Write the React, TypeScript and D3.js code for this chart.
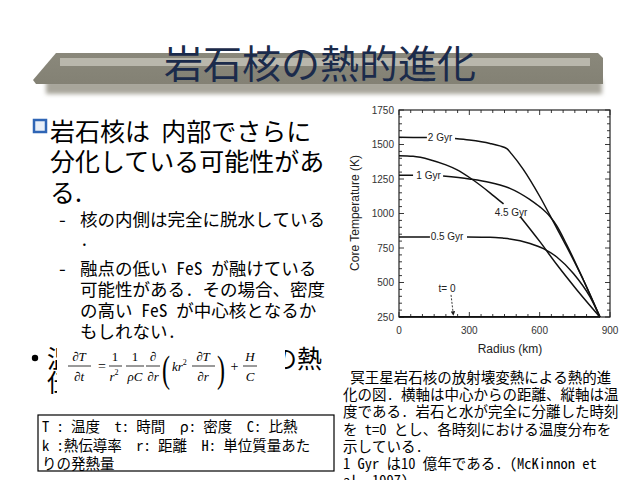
import React from "react";
import * as d3 from "d3";

// ---------- chart data (Radius km, Core Temperature K) ----------
type Pt = [number, number | null];
const curve2Gyr: Pt[] = [
  [0, 1552], [60, 1551], [119, 1550], [180, null], [239, 1543], [300, 1532], [388, 1508],
  [430, 1490], [460, 1470], [480, 1432], [530, 1320], [600, 1125], [660, 935],
  [715, 760], [786, 520], [857, 250],
];
const curve1Gyr: Pt[] = [
  [0, 1278], [60, 1277], [120, null], [188, 1271], [300, 1250], [388, 1225], [431, 1206],
  [473, 1182], [559, 1100], [601, 1048], [644, 978], [673, 910], [715, 775],
  [786, 520], [857, 250],
];
const curve45Gyr: Pt[] = [
  [0, 1418], [60, 1414], [132, 1390], [200, 1352], [246, 1318], [310, 1250],
  [388, 1150], [431, 1090], [446, 1070], [480, null], [517, 978], [601, 796],
  [673, 630], [758, 448], [857, 250],
];
const curve05Gyr: Pt[] = [
  [0, 830], [70, 830], [132, 830], [210, null], [290, 829], [388, 828], [446, 821],
  [473, 816], [559, 783], [616, 746], [673, 685], [744, 565], [815, 395], [857, 250],
];
const curveT0: Pt[] = [
  [0, 251], [857, 251],
];
const curves = [curve2Gyr, curve1Gyr, curve45Gyr, curve05Gyr];

const curveLabels = ["2 Gyr", "1 Gyr", "4.5 Gyr", "0.5 Gyr", "t= 0"];
const labelR = [175, 126, 478, 205, 205];
const labelT = [1548, 1276, 1010, 830, 455];
const arrowFrom: [number, number] = [222, 410];
const arrowTo: [number, number] = [232, 262];

const xMajor = [0, 300, 600, 900];
const xMinor = d3.range(0, 901, 50);
const yMajor = [250, 500, 750, 1000, 1250, 1500, 1750];
const yMinor = d3.range(250, 1751, 50);

// ---------- slide text ----------
const title = "岩石核の熱的進化";
const bullet1 = ["岩石核は  内部でさらに", "分化している可能性があ", "る."];
const sub1 = ["核の内側は完全に脱水している", "."];
const sub2 = ["融点の低い FeS が融けている", "可能性がある. その場合、密度", "の高い FeS が中心核となるか", "もしれない."];
const bullet2Start = ["温", "伝"];
const bullet2End = "の熱";
const legendBox = ["T : 温度  t: 時間  ρ: 密度  C: 比熱", "k :熱伝導率  r: 距離  H: 単位質量あた", "りの発熱量"];
const caption = [
  " 冥王星岩石核の放射壊変熱による熱的進",
  "化の図. 横軸は中心からの距離、縦軸は温",
  "度である. 岩石と水が完全に分離した時刻",
  "を t=0 とし、各時刻における温度分布を",
  "示している.",
  "1 Gyr は10 億年である. (McKinnon et",
  "al. 1997)",
];

const CJK = "'Noto Sans CJK JP', 'Noto Sans', sans-serif";
const MONO = "'Noto Sans Mono CJK JP', 'DejaVu Sans Mono', 'Noto Sans CJK JP', monospace";
const HELV = "'Liberation Sans', Arial, sans-serif";
const SERIF = "'Liberation Serif', 'DejaVu Serif', serif";
const PRE: React.CSSProperties = { whiteSpace: "pre" };

export default function App() {
  const x = d3.scaleLinear().domain([0, 900]).range([399, 610]);
  const y = d3.scaleLinear().domain([250, 1750]).range([317, 110]);
  const line = d3
    .line<Pt>()
    .defined((d) => d[1] != null)
    .x((d) => x(d[0]))
    .y((d) => y(d[1] as number))
    .curve(d3.curveMonotoneX);

  const it: React.CSSProperties = { fontFamily: SERIF, fontStyle: "italic" };
  const fracY = 366;

  return (
    <svg
      width={640}
      height={480}
      viewBox="0 0 640 480"
      style={{ position: "absolute", left: 0, top: 0, background: "#fff" }}
    >
      <defs>
        <filter id="blur" x="-5%" y="-50%" width="110%" height="200%">
          <feGaussianBlur stdDeviation="2" />
        </filter>
        <linearGradient id="bar" x1="0" y1="0" x2="0" y2="1">
          <stop offset="0" stopColor="#8a887b" />
          <stop offset="1" stopColor="#838174" />
        </linearGradient>
        <marker id="arr" viewBox="0 0 10 10" refX="9" refY="5" markerWidth="5" markerHeight="5" orient="auto">
          <path d="M0,0 L10,5 L0,10 z" fill="#222" />
        </marker>
        <clipPath id="leftStrip">
          <rect x={0} y={330} width={57} height={80} />
        </clipPath>
        <clipPath id="rightStrip">
          <rect x={285} y={330} width={80} height={45} />
        </clipPath>
      </defs>

      {/* title banner */}
      <rect x={46} y={80} width={556} height={14} fill="#a8a69b" filter="url(#blur)" />
      <polygon points="56,53 598,53 603,58 603,84 36,84 33,80" fill="url(#bar)" />
      <rect x={60} y={58} width={530} height={8} fill="#b9b7ac" />
      <text x={320} y={78} textAnchor="middle" fontFamily={CJK} fontSize={39} fill="#1b2b4b">
        {title}
      </text>

      {/* main bullet */}
      <rect x={34} y={120} width={12} height={12} fill="#e9eff8" stroke="#2f65b5" strokeWidth={2.5} />
      {bullet1.map((t, i) => (
        <text key={i} x={50} y={140.5 + i * 30.5} fontFamily={CJK} fontSize={25} fill="#000" xmlSpace="preserve" style={PRE}>
          {t}
        </text>
      ))}
      <g fontFamily={MONO} fontSize={17.5} fill="#000">
        <text x={58} y={226}>-</text>
        {sub1.map((t, i) => (
          <text key={i} x={80} y={226 + i * 20} xmlSpace="preserve" style={PRE}>{t}</text>
        ))}
        <text x={58} y={275}>-</text>
        {sub2.map((t, i) => (
          <text key={i} x={80} y={275 + i * 21} xmlSpace="preserve" style={PRE}>{t}</text>
        ))}
      </g>

      {/* second bullet, mostly hidden behind the equation image */}
      <circle cx={35} cy={358} r={3.2} fill="#000" />
      <g clipPath="url(#leftStrip)">
        {bullet2Start.map((t, i) => (
          <text key={i} x={47} y={368 + i * 24} fontFamily={CJK} fontSize={25} fill="#000">
            {t}
          </text>
        ))}
      </g>
      <g clipPath="url(#rightStrip)">
        <text x={272} y={368} fontFamily={CJK} fontSize={25} fill="#000">{bullet2End}</text>
      </g>

      {/* equation */}
      <g fill="#000" fontSize={13}>
        <text x={79} y={fracY - 5} textAnchor="middle" style={it}>∂T</text>
        <line x1={68} x2={91} y1={fracY} y2={fracY} stroke="#000" strokeWidth={0.8} />
        <text x={79} y={fracY + 15} textAnchor="middle" style={it}>∂t</text>
        <text x={102} y={fracY + 5} textAnchor="middle" fontFamily={SERIF} fontSize={14}>=</text>
        <text x={115} y={fracY - 5} textAnchor="middle" fontFamily={SERIF}>1</text>
        <line x1={109} x2={122} y1={fracY} y2={fracY} stroke="#000" strokeWidth={0.8} />
        <text x={114} y={fracY + 15} textAnchor="middle" style={it}>r<tspan fontSize={8} dy={-6} fontStyle="normal">2</tspan></text>
        <text x={135} y={fracY - 5} textAnchor="middle" fontFamily={SERIF}>1</text>
        <line x1={126} x2={144} y1={fracY} y2={fracY} stroke="#000" strokeWidth={0.8} />
        <text x={135} y={fracY + 15} textAnchor="middle" style={it}>ρC</text>
        <text x={153} y={fracY - 5} textAnchor="middle" style={it}>∂</text>
        <line x1={146} x2={160} y1={fracY} y2={fracY} stroke="#000" strokeWidth={0.8} />
        <text x={153} y={fracY + 15} textAnchor="middle" style={it}>∂r</text>
        <text transform="translate(166,382) scale(0.8,1.25)" textAnchor="middle" fontFamily={SERIF} fontSize={30} fontWeight={300}>(</text>
        <text x={172} y={fracY + 5} style={it}>kr<tspan fontSize={8} dy={-6} fontStyle="normal">2</tspan></text>
        <text x={203} y={fracY - 5} textAnchor="middle" style={it}>∂T</text>
        <line x1={192} x2={215} y1={fracY} y2={fracY} stroke="#000" strokeWidth={0.8} />
        <text x={203} y={fracY + 15} textAnchor="middle" style={it}>∂r</text>
        <text transform="translate(221,382) scale(0.8,1.25)" textAnchor="middle" fontFamily={SERIF} fontSize={30} fontWeight={300}>)</text>
        <text x={234.5} y={fracY + 5} textAnchor="middle" fontFamily={SERIF} fontSize={14}>+</text>
        <text x={250} y={fracY - 5} textAnchor="middle" style={it}>H</text>
        <line x1={243} x2={257} y1={fracY} y2={fracY} stroke="#000" strokeWidth={0.8} />
        <text x={250} y={fracY + 15} textAnchor="middle" style={it}>C</text>
      </g>

      {/* legend box */}
      <rect x={38} y={415} width={296} height={56} fill="#fff" stroke="#000" strokeWidth={1.2} />
      <g fontFamily={MONO} fontSize={14.5} fill="#000">
        {legendBox.map((t, i) => (
          <text key={i} x={42} y={432 + i * 18.5} xmlSpace="preserve" style={PRE}>{t}</text>
        ))}
      </g>

      {/* caption */}
      <g fontFamily={MONO} fontSize={14.5} fill="#000">
        {caption.map((t, i) => (
          <text key={i} x={343} y={383 + i * 17.2} xmlSpace="preserve" style={PRE}>{t}</text>
        ))}
      </g>

      {/* chart */}
      <g>
        {xMinor.map((v) => {
          const major = xMajor.includes(v);
          const len = major ? 5 : 3;
          return (
            <g key={"x" + v} stroke="#222" strokeWidth={0.9}>
              <line x1={x(v)} x2={x(v)} y1={y(250)} y2={y(250) - len} />
              <line x1={x(v)} x2={x(v)} y1={y(1750)} y2={y(1750) + len} />
            </g>
          );
        })}
        {yMinor.map((v) => {
          const major = yMajor.includes(v);
          const len = major ? 5 : 3;
          return (
            <g key={"y" + v} stroke="#222" strokeWidth={0.9}>
              <line x1={x(0)} x2={x(0) + len} y1={y(v)} y2={y(v)} />
              <line x1={x(900)} x2={x(900) - len} y1={y(v)} y2={y(v)} />
            </g>
          );
        })}
        <rect x={x(0)} y={y(1750)} width={x(900) - x(0)} height={y(250) - y(1750)} fill="none" stroke="#222" strokeWidth={1.2} />
        {curves.map((c, i) => (
          <path key={i} d={line(c) || ""} fill="none" stroke="#111" strokeWidth={1.5} />
        ))}
        <path d={line(curveT0) || ""} fill="none" stroke="#111" strokeWidth={1.8} />
        <line
          x1={x(arrowFrom[0])}
          y1={y(arrowFrom[1])}
          x2={x(arrowTo[0])}
          y2={y(arrowTo[1])}
          stroke="#222"
          strokeWidth={0.9}
          strokeDasharray="2,1.5"
          markerEnd="url(#arr)"
        />
        <g fontFamily={HELV} fontSize={10} fill="#222">
          {curveLabels.map((t, i) => (
            <text key={t} x={x(labelR[i])} y={y(labelT[i]) + 3.5} textAnchor="middle">{t}</text>
          ))}
        </g>
        <g fontFamily={HELV} fontSize={10} fill="#333">
          {yMajor.map((v) => (
            <text key={v} x={x(0) - 5} y={y(v) + 3.5} textAnchor="end">{v}</text>
          ))}
          {xMajor.map((v) => (
            <text key={v} x={x(v)} y={334} textAnchor="middle">{v}</text>
          ))}
        </g>
        <text x={510} y={353} textAnchor="middle" fontFamily={HELV} fontSize={12} fill="#222">Radius (km)</text>
        <text transform="translate(359,213) rotate(-90)" textAnchor="middle" fontFamily={HELV} fontSize={12} fill="#222">
          Core Temperature (K)
        </text>
      </g>
    </svg>
  );
}
